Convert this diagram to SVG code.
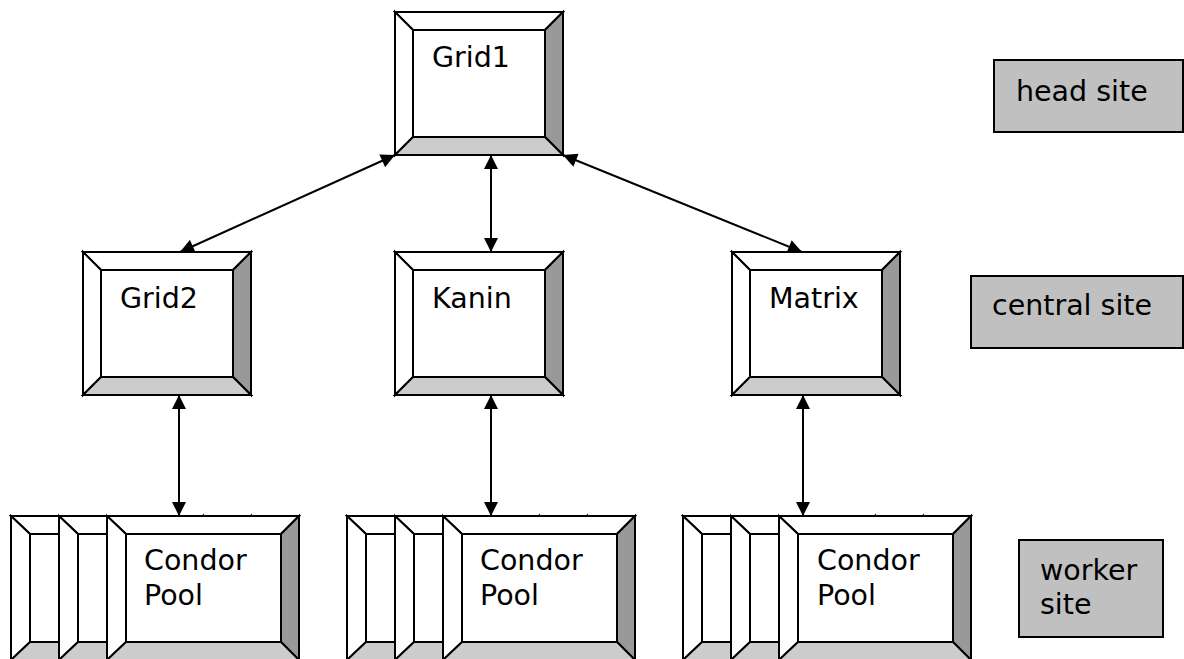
<svg xmlns="http://www.w3.org/2000/svg" xmlns:xlink="http://www.w3.org/1999/xlink" width="1184" height="659" viewBox="0 0 1184 659">
<style>
  .t { font-family: "DejaVu Sans", Verdana, sans-serif; font-size: 28.5px; fill: #000; }
  .bv { stroke: #000; stroke-width: 2; stroke-linejoin: miter; }
  .lt { fill: #ffffff; }
  .dk { fill: #999999; }
  .md { fill: #cccccc; }
  .lab { fill: #c0c0c0; stroke: #000; stroke-width: 2; }
  .con { stroke: #000; stroke-width: 2; fill: none; marker-start: url(#ah); marker-end: url(#ah); }
</style>
<defs>
  <marker id="ah" viewBox="0 0 10 10" refX="10" refY="5" markerUnits="userSpaceOnUse" markerWidth="16" markerHeight="14" orient="auto-start-reverse">
    <path d="M0,0 L10,5 L0,10 z" fill="#000"/>
  </marker>
  <g id="bevA" class="bv">
    <rect x="18" y="18" width="132" height="107" class="lt"/>
    <polygon points="0,0 168,0 150,18 18,18" class="lt"/>
    <polygon points="0,0 18,18 18,125 0,143" class="lt"/>
    <polygon points="168,0 168,143 150,125 150,18" class="dk"/>
    <polygon points="0,143 18,125 150,125 168,143" class="md"/>
  </g>
  <g id="bevB" class="bv">
    <rect x="19" y="18" width="155" height="108" class="lt"/>
    <polygon points="0,0 192,0 174,18 19,18" class="lt"/>
    <polygon points="0,0 19,18 19,126 0,144" class="lt"/>
    <polygon points="192,0 192,144 174,126 174,18" class="dk"/>
    <polygon points="0,144 19,126 174,126 192,144" class="md"/>
  </g>
</defs>

<g id="connectors">
  <line class="con" x1="395" y1="155" x2="180" y2="252"/>
  <line class="con" x1="491" y1="155" x2="491" y2="252"/>
  <line class="con" x1="563" y1="155" x2="802" y2="252"/>
  <line class="con" x1="179" y1="395" x2="179" y2="516"/>
  <line class="con" x1="491" y1="395" x2="491" y2="516"/>
  <line class="con" x1="803" y1="395" x2="803" y2="516"/>
</g>

<g id="grid1" transform="translate(395,12)">
  <use xlink:href="#bevA"/>
  <text class="t" x="37" y="55">Grid1</text>
</g>
<g id="grid2" transform="translate(83,252)">
  <use xlink:href="#bevA"/>
  <text class="t" x="37" y="56">Grid2</text>
</g>
<g id="kanin" transform="translate(395,252)">
  <use xlink:href="#bevA"/>
  <text class="t" x="37" y="56">Kanin</text>
</g>
<g id="matrix" transform="translate(732,252)">
  <use xlink:href="#bevA"/>
  <text class="t" x="37" y="56">Matrix</text>
</g>

<g id="pool1">
  <use xlink:href="#bevB" x="11" y="516"/>
  <use xlink:href="#bevB" x="59" y="516"/>
  <use xlink:href="#bevB" x="107" y="516"/>
  <text class="t" x="144" y="570">Condor</text>
  <text class="t" x="144" y="605">Pool</text>
</g>
<g id="pool2">
  <use xlink:href="#bevB" x="347" y="516"/>
  <use xlink:href="#bevB" x="395" y="516"/>
  <use xlink:href="#bevB" x="443" y="516"/>
  <text class="t" x="480" y="570">Condor</text>
  <text class="t" x="480" y="605">Pool</text>
</g>
<g id="pool3">
  <use xlink:href="#bevB" x="683" y="516"/>
  <use xlink:href="#bevB" x="731" y="516"/>
  <use xlink:href="#bevB" x="779" y="516"/>
  <text class="t" x="817" y="570">Condor</text>
  <text class="t" x="817" y="605">Pool</text>
</g>

<g id="head-site">
  <rect class="lab" x="994" y="60" width="189" height="72"/>
  <text class="t" x="1016" y="101">head site</text>
</g>
<g id="central-site">
  <rect class="lab" x="971" y="276" width="212" height="72"/>
  <text class="t" x="992" y="315">central site</text>
</g>
<g id="worker-site">
  <rect class="lab" x="1019" y="540" width="144" height="97"/>
  <text class="t" x="1040" y="580">worker</text>
  <text class="t" x="1040" y="614">site</text>
</g>
</svg>
